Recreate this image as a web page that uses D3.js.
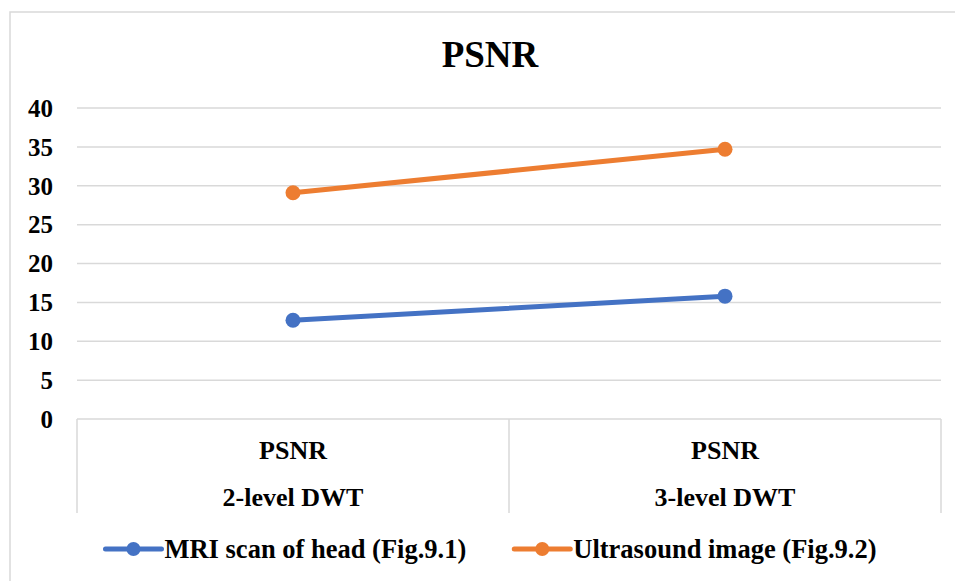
<!DOCTYPE html>
<html>
<head>
<meta charset="utf-8">
<script src="https://cdn.jsdelivr.net/npm/d3@7"></script>
<style>
  body { margin: 0; background: #fff; }
  svg { display: block; }
</style>
</head>
<body>
<div id="chart"></div>
<script>
// Data
const categories = ['2-level DWT', '3-level DWT'];
const categoryGroup = 'PSNR';
const seriesNames = ['MRI scan of head (Fig.9.1)', 'Ultrasound image (Fig.9.2)'];
const mriValues = [12.7, 15.8];
const ultrasoundValues = [29.1, 34.7];
const yTicks = [0, 5, 10, 15, 20, 25, 30, 35, 40];

const colors = ['#4472C4', '#ED7D31'];
const seriesValues = [mriValues, ultrasoundValues];
const fontFamily = '"Liberation Serif"';

// Layout
const W = 955, H = 581;
const plot = { left: 77, right: 941, top: 108, bottom: 419 };
const axisBottom = 513;
const centerX = 490;

const svg = d3.select('#chart').append('svg')
    .attr('width', W)
    .attr('height', H);

// helper so every label gets the same serif bold face
function label(sel, size) {
    return sel.style('font-family', fontFamily)
        .style('font-weight', 'bold')
        .style('font-size', size + 'px')
        .attr('fill', '#000');
}

// Chart frame (only top and left edges fall inside the picture)
svg.append('rect')
    .attr('x', 10)
    .attr('y', 12)
    .attr('width', W + 20)
    .attr('height', H + 20)
    .attr('fill', '#fff')
    .attr('stroke', '#d9d9d9')
    .attr('stroke-width', 1.5);

// Scales
const xBand = d3.scaleBand()
    .domain(categories)
    .range([plot.left, plot.right]);

const yScale = d3.scaleLinear()
    .domain([0, 40])
    .range([plot.bottom, plot.top]);

// Horizontal gridlines
svg.append('g')
    .selectAll('line')
    .data(yTicks.filter(d => d > 0))
    .enter()
    .append('line')
    .attr('x1', plot.left)
    .attr('x2', plot.right)
    .attr('y1', d => yScale(d))
    .attr('y2', d => yScale(d))
    .attr('stroke', '#d9d9d9')
    .attr('stroke-width', 1.5);

// Y axis labels
label(svg.append('g')
    .selectAll('text')
    .data(yTicks)
    .enter()
    .append('text')
    .attr('x', 53)
    .attr('y', d => yScale(d))
    .attr('dy', '0.35em')
    .attr('text-anchor', 'end'), 25)
    .text(d => d);

// Category axis: baseline plus group separators
const catAxis = svg.append('g');
catAxis.append('line')
    .attr('x1', plot.left)
    .attr('x2', plot.right)
    .attr('y1', plot.bottom)
    .attr('y2', plot.bottom)
    .attr('stroke', '#d9d9d9')
    .attr('stroke-width', 1.5);

const separators = categories.map(c => xBand(c)).concat([plot.right]);
catAxis.selectAll('.sep')
    .data(separators)
    .enter()
    .append('line')
    .attr('class', 'sep')
    .attr('x1', d => d)
    .attr('x2', d => d)
    .attr('y1', plot.bottom)
    .attr('y2', axisBottom)
    .attr('stroke', '#d9d9d9')
    .attr('stroke-width', 1.5);

label(catAxis.selectAll('.lab1')
    .data(categories)
    .enter()
    .append('text')
    .attr('class', 'lab1')
    .attr('x', d => xBand(d) + xBand.bandwidth() / 2)
    .attr('y', 459)
    .attr('text-anchor', 'middle'), 26)
    .text(categoryGroup);

label(catAxis.selectAll('.lab2')
    .data(categories)
    .enter()
    .append('text')
    .attr('class', 'lab2')
    .attr('x', d => xBand(d) + xBand.bandwidth() / 2)
    .attr('y', 506)
    .attr('text-anchor', 'middle'), 26)
    .text(d => d);

// Lines and markers
const line = d3.line()
    .x((d, i) => xBand(categories[i]) + xBand.bandwidth() / 2)
    .y(d => yScale(d));

seriesValues.forEach((vals, s) => {
    svg.append('path')
        .datum(vals)
        .attr('d', line)
        .attr('fill', 'none')
        .attr('stroke', colors[s])
        .attr('stroke-width', 5)
        .attr('stroke-linecap', 'round');

    svg.selectAll(`.dot-${s}`)
        .data(vals)
        .enter()
        .append('circle')
        .attr('class', `dot-${s}`)
        .attr('cx', (d, i) => xBand(categories[i]) + xBand.bandwidth() / 2)
        .attr('cy', d => yScale(d))
        .attr('r', 7.5)
        .attr('fill', colors[s]);
});

// Title
label(svg.append('text')
    .attr('x', centerX)
    .attr('y', 67)
    .attr('text-anchor', 'middle'), 37)
    .text('PSNR');

// Legend, centred under the chart
const legend = svg.append('g');
const legendY = 549;
const swatch = 56, gapText = 3, gapItem = 48;
const items = seriesNames.map((name, i) => {
    const g = legend.append('g');
    g.append('line')
        .attr('x1', 0)
        .attr('x2', swatch)
        .attr('y1', 0)
        .attr('y2', 0)
        .attr('stroke', colors[i])
        .attr('stroke-width', 5)
        .attr('stroke-linecap', 'round');
    g.append('circle')
        .attr('cx', swatch / 2)
        .attr('cy', 0)
        .attr('r', 7)
        .attr('fill', colors[i]);
    const t = label(g.append('text')
        .attr('x', swatch + gapText)
        .attr('y', 0)
        .attr('dy', '0.33em'), 26.5)
        .text(name);
    return { g, w: swatch + gapText + t.node().getComputedTextLength() };
});
const totalW = d3.sum(items, d => d.w) + gapItem * (items.length - 1);
let lx = centerX + 1 - totalW / 2;
items.forEach(it => {
    it.g.attr('transform', `translate(${lx},${legendY})`);
    lx += it.w + gapItem;
});
</script>
</body>
</html>
